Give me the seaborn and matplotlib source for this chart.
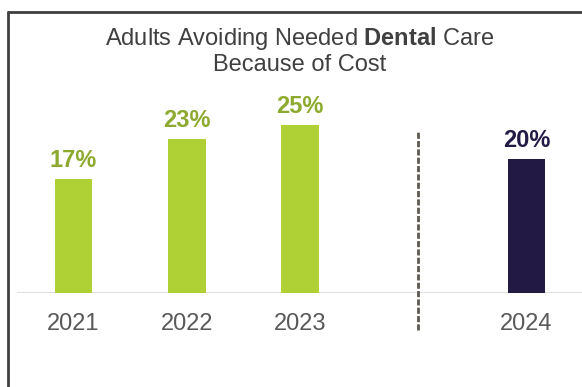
import matplotlib
matplotlib.use("Agg")
import matplotlib.pyplot as plt
import seaborn as sns
import pandas as pd
from matplotlib.lines import Line2D

years = ["2021", "2022", "2023", "2024"]
values = [17, 23, 25, 20]
labels = ["17%", "23%", "25%", "20%"]
order = ["2021", "2022", "2023", " ", "2024"]

bar_colors = {"2021": "#AFD136", "2022": "#AFD136", "2023": "#AFD136", "2024": "#221A45"}
label_colors = {"2021": "#8BAA2E", "2022": "#8BAA2E", "2023": "#8BAA2E", "2024": "#221A45"}

sns.set_style("white")
plt.rcParams["font.family"] = ["Liberation Sans", "DejaVu Sans"]
plt.rcParams["mathtext.fontset"] = "custom"
plt.rcParams["mathtext.rm"] = "Liberation Sans"
plt.rcParams["mathtext.bf"] = "Liberation Sans:bold"

W, H = 582, 387
fig = plt.figure(figsize=(W / 100, H / 100), dpi=100)
fig.patch.set_facecolor("white")

base_px = 293.3
top_px = 80
left_px = 17
ax = fig.add_axes([left_px / W, 1 - base_px / H, 1 - left_px / W, (base_px - top_px) / H])

df = pd.DataFrame({"year": years, "value": values})
sns.barplot(data=df, x="year", y="value", hue="year", order=order,
            palette=bar_colors, width=0.33, legend=False, ax=ax,
            saturation=1, edgecolor="none")

ax.set_xlim(-0.5, 4.49)
ax.set_ylim(0, (base_px - top_px) / 6.73)
for s in ax.spines.values():
    s.set_visible(False)
ax.set_yticks([])
ax.set_xlabel("")
ax.set_ylabel("")
ax.axhline(0, color="#D9D9D9", lw=1.2, zorder=0)

pos = {y: order.index(y) for y in years}
ax.set_xticks([pos[y] for y in years])
ax.set_xticklabels(years, fontsize=17, color="#595959")
ax.tick_params(axis="x", length=0, pad=14)

for y, v, lab in zip(years, values, labels):
    ax.annotate(lab, (pos[y], v), xytext=(0, 8.4), textcoords="offset points",
                ha="center", va="baseline", fontsize=17, fontweight="bold",
                color=label_colors[y])

# dashed separator
ax.plot([3.04, 3.04], [-5.45, 23.97], color="#5E5951", lw=2.0,
        linestyle=(0, (2.2, 0.8)), clip_on=False)

# title
fig.text(300 / W, 1 - 45 / H, r"Adults Avoiding Needed $\mathbf{Dental}$ Care",
         ha="center", va="baseline", fontsize=17, color="#404040")
fig.text(300 / W, 1 - 71 / H, "Because of Cost",
         ha="center", va="baseline", fontsize=17, color="#404040")

# frame lines (top and left)
fig.add_artist(Line2D([8 / W, 1], [1 - 12 / H, 1 - 12 / H], transform=fig.transFigure,
                      color="#3F3F3F", lw=2))
fig.add_artist(Line2D([8 / W, 8 / W], [1 - 12 / H, 0], transform=fig.transFigure,
                      color="#3F3F3F", lw=2))

fig.savefig("out.png", dpi=100)
